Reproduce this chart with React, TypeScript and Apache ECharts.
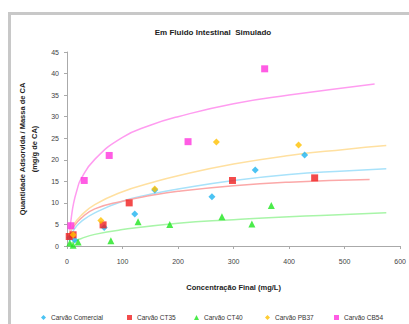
import React, { useEffect, useRef } from "react";
import * as echarts from "echarts";

const seriesNames = ["Carvão Comercial", "Carvão CT35", "Carvão CT40", "Carvão PB37", "Carvão CB54"];
const colors = ["#1EB4F0", "#F01E1E", "#1EE61E", "#FFC000", "#FF33DD"];
const trendColors = ["#A8E2FA", "#FBA8A8", "#A8F5A8", "#FFE0A0", "#FF9CF0"];
const markers = ["diamond", "rect", "triangle", "diamond", "rect"];

// Data points [concentration final mg/L, adsorbed mg/g]
const comercialX = [5, 14, 67, 122, 158, 261, 339, 428];
const comercialY = [1.9, 1.4, 4.3, 7.4, 13.0, 11.4, 17.6, 21.1];
const ct35X = [4, 11, 65, 112, 298, 446];
const ct35Y = [2.2, 2.6, 4.9, 10.0, 15.2, 15.8];
const ct40X = [5, 11, 20, 79, 128, 185, 279, 333, 368];
const ct40Y = [0.7, 0.2, 0.9, 1.2, 5.6, 5.0, 6.8, 5.1, 9.4];
const pb37X = [11, 61, 158, 269, 417];
const pb37Y = [2.6, 5.9, 13.2, 24.1, 23.4];
const cb54X = [7, 31, 76, 218, 356];
const cb54Y = [4.7, 15.2, 21.0, 24.2, 41.1];

// Trend lines
const trendComercialX = [5, 10, 16, 25, 50, 100, 150, 200, 300, 400, 500, 575];
const trendComercialY = [1.5, 3.2, 4.4, 5.6, 7.7, 10.4, 12.0, 13.2, 15.2, 16.6, 17.4, 17.9];
const trendCt35X = [3, 6, 12, 25, 50, 100, 150, 200, 300, 400, 545];
const trendCt35Y = [2.0, 3.3, 4.5, 6.4, 8.6, 10.4, 11.7, 12.7, 14.0, 14.8, 15.4];
const trendCt40X = [5, 10, 25, 50, 100, 200, 300, 400, 500, 575];
const trendCt40Y = [0.3, 0.9, 1.7, 2.7, 3.8, 5.3, 6.1, 6.8, 7.3, 7.7];
const trendPb37X = [5, 10, 25, 50, 100, 150, 200, 300, 400, 500, 575];
const trendPb37Y = [2.8, 4.6, 7.0, 9.6, 12.6, 14.6, 16.3, 19.0, 21.0, 22.4, 23.3];
const trendCb54X = [5, 8, 12, 18, 25, 50, 100, 150, 200, 300, 400, 554];
const trendCb54Y = [3.5, 6.8, 10.0, 13.0, 15.5, 20.1, 25.2, 28.0, 30.0, 33.0, 35.0, 37.6];

const xTicks = [0, 100, 200, 300, 400, 500, 600];
const yTicks = [0, 5, 10, 15, 20, 25, 30, 35, 40, 45];

const pointsX = [comercialX, ct35X, ct40X, pb37X, cb54X];
const pointsY = [comercialY, ct35Y, ct40Y, pb37Y, cb54Y];
const trendsX = [trendComercialX, trendCt35X, trendCt40X, trendPb37X, trendCb54X];
const trendsY = [trendComercialY, trendCt35Y, trendCt40Y, trendPb37Y, trendCb54Y];

const legendLefts = [41, 127, 194, 265, 334];

const zip = (xs: number[], ys: number[]) => xs.map((x, i) => [x, ys[i]]);

export default function App() {
  const ref = useRef<HTMLDivElement>(null);
  useEffect(() => {
    if (!ref.current) return;
    const chart = echarts.init(ref.current, null, { renderer: "svg" });
    const font = "Liberation Sans, Arial, sans-serif";
    const trendSeries = trendsX.map((xs, i) => ({
      type: "line",
      name: seriesNames[i] + " tendência",
      data: zip(xs, trendsY[i]),
      smooth: true,
      symbol: "none",
      lineStyle: { color: trendColors[i], width: 1.5 },
      z: 1,
    }));
    const pointSeries = pointsX.map((xs, i) => ({
      type: "scatter",
      name: seriesNames[i],
      data: zip(xs, pointsY[i]),
      symbol: markers[i],
      symbolSize: 7,
      itemStyle: { color: colors[i] },
      z: 3,
    }));
    const legends = seriesNames.map((n, i) => ({
      data: [n],
      left: legendLefts[i],
      top: 314,
      padding: 0,
      itemWidth: 5,
      itemHeight: 5,
      itemGap: 4,
      textStyle: { fontSize: 6.5, color: "#333", fontFamily: font },
    }));
    chart.setOption({
      animation: false,
      textStyle: { fontFamily: font },
      graphic: [
        { type: "rect", shape: { x: 8, y: 12, width: 401, height: 3 }, style: { fill: "#C8C8C8" } },
        { type: "rect", shape: { x: 8, y: 12, width: 3, height: 312 }, style: { fill: "#C8C8C8" } },
        {
          type: "text",
          x: 213,
          y: 32,
          style: {
            text: "Em Fluido Intestinal  Simulado",
            textAlign: "center",
            textVerticalAlign: "middle",
            fontSize: 8,
            fontWeight: "bold",
            fontFamily: font,
            fill: "#222",
          },
        },
      ],
      grid: { left: 67, right: 8, top: 52, bottom: 78 },
      legend: legends,
      xAxis: {
        type: "value",
        min: 0,
        max: 600,
        interval: 100,
        name: "Concentração Final (mg/L)",
        nameLocation: "middle",
        nameGap: 37,
        nameTextStyle: { fontSize: 7.5, fontWeight: "bold", color: "#222" },
        axisLine: { lineStyle: { color: "#AAAAAA" } },
        axisTick: { show: true, length: 3, lineStyle: { color: "#AAAAAA" } },
        axisLabel: { fontSize: 7, color: "#444", margin: 12 },
        splitLine: { show: false },
      },
      yAxis: {
        type: "value",
        min: 0,
        max: 45,
        interval: 5,
        name: "Quantidade Adsorvida / Massa de CA\n(mg/g de CA)",
        nameLocation: "middle",
        nameRotate: 90,
        nameGap: 25,
        nameTextStyle: { fontSize: 7.5, fontWeight: "bold", color: "#222", lineHeight: 12, align: "center" },
        axisLine: { show: true, lineStyle: { color: "#AAAAAA" } },
        axisTick: { show: true, length: 3, lineStyle: { color: "#AAAAAA" } },
        axisLabel: { fontSize: 7, color: "#444", margin: 8 },
        splitLine: { show: false },
      },
      series: [...trendSeries, ...pointSeries],
    });
    return () => chart.dispose();
  }, []);
  return <div ref={ref} style={{ position: "absolute", left: 0, top: 0, width: 409, height: 324 }} />;
}
